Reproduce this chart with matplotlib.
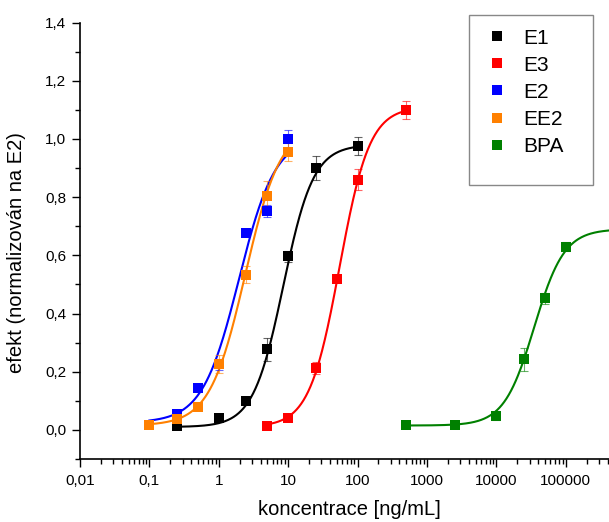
import numpy as np
import matplotlib
matplotlib.use("Agg")
import matplotlib.pyplot as plt
from matplotlib.patches import Rectangle
from matplotlib.ticker import FixedLocator, MultipleLocator, LogLocator, NullFormatter

plt.rcParams['font.family'] = ['Liberation Sans', 'DejaVu Sans']

# Measured points: concentration [ng/mL], normalised effect, error
e1_x = [0.25, 1, 2.5, 5, 10, 25, 100]
e1_y = [0.012, 0.040, 0.099, 0.277, 0.596, 0.900, 0.975]
e1_err = [0.005, 0.008, 0.01, 0.04, 0.02, 0.04, 0.03]

e3_x = [5, 10, 25, 50, 100, 500]
e3_y = [0.014, 0.040, 0.212, 0.517, 0.860, 1.099]
e3_err = [0.005, 0.008, 0.02, 0.01, 0.035, 0.03]

e2_x = [0.1, 0.25, 0.5, 1, 2.5, 5, 10]
e2_y = [0.018, 0.055, 0.144, 0.225, 0.678, 0.753, 1.000]
e2_err = [0.005, 0.005, 0.005, 0.02, 0.01, 0.02, 0.03]

ee2_x = [0.1, 0.25, 0.5, 1, 2.5, 5, 10]
ee2_y = [0.017, 0.037, 0.079, 0.226, 0.534, 0.805, 0.955]
ee2_err = [0.008, 0.01, 0.01, 0.03, 0.03, 0.05, 0.03]

bpa_x = [500, 2500, 10000, 25000, 50000, 100000, 500000]
bpa_y = [0.017, 0.017, 0.048, 0.243, 0.452, 0.630, 0.635]
bpa_err = [0.005, 0.005, 0.015, 0.04, 0.02, 0.015, 0.02]

# Four-parameter logistic fits: bottom, top, EC50, Hill slope, fitted range
e1_fit = (0.010, 0.980, 8.5, 2.0, 0.25, 100)
e3_fit = (0.010, 1.110, 55.0, 2.0, 5, 500)
e2_fit = (0.025, 1.010, 1.95, 1.65, 0.1, 10)
ee2_fit = (0.015, 1.050, 2.4, 1.7, 0.1, 10)
bpa_fit = (0.015, 0.690, 35000.0, 2.0, 500, 1e6)

x_ticks = [0.01, 0.1, 1, 10, 100, 1000, 10000, 100000]
x_tick_labels = ["0,01", "0,1", "1", "10", "100", "1000", "10000", "100000"]
y_ticks = [0.0, 0.2, 0.4, 0.6, 0.8, 1.0, 1.2, 1.4]
y_tick_labels = ["0,0", "0,2", "0,4", "0,6", "0,8", "1,0", "1,2", "1,4"]


def logistic(x, bottom, top, ec50, hill):
    return bottom + (top - bottom) / (1.0 + (ec50 / x) ** hill)


series = [
    ("E1", e1_x, e1_y, e1_err, e1_fit, "#000000"),
    ("E3", e3_x, e3_y, e3_err, e3_fit, "#ff0000"),
    ("E2", e2_x, e2_y, e2_err, e2_fit, "#0000ff"),
    ("EE2", ee2_x, ee2_y, ee2_err, ee2_fit, "#ff8000"),
    ("BPA", bpa_x, bpa_y, bpa_err, bpa_fit, "#008000"),
]

W, H = 609, 522
fig = plt.figure(figsize=(W / 100, H / 100), dpi=100)
# axis runs past the right edge of the figure
ax = fig.add_axes([80 / W, 63 / H, 624.6 / W, 436.5 / H])

handles = []
for name, xs, ys, errs, fit, color in series:
    bottom, top, ec50, hill, x0, x1 = fit
    xf = np.logspace(np.log10(x0), np.log10(x1), 300)
    ax.plot(xf, logistic(xf, bottom, top, ec50, hill), color=color, lw=1.5, zorder=2)
    ax.errorbar(xs, ys, yerr=errs, fmt="none", ecolor=color, elinewidth=0.8,
                capsize=3, capthick=0.8, alpha=0.6, zorder=3)
    h, = ax.plot(xs, ys, linestyle="none", marker="s", markersize=6.5,
                 color=color, markeredgewidth=0, zorder=4, label=name)
    handles.append(h)

ax.set_xscale("log")
ax.set_xlim(0.01, 1e7)
ax.set_ylim(-0.1, 1.4)

ax.xaxis.set_major_locator(FixedLocator(x_ticks))
ax.set_xticklabels(x_tick_labels)
ax.xaxis.set_minor_locator(LogLocator(base=10, subs=np.arange(2, 10), numticks=30))
ax.xaxis.set_minor_formatter(NullFormatter())
ax.yaxis.set_major_locator(FixedLocator(y_ticks))
ax.set_yticklabels(y_tick_labels)
ax.yaxis.set_minor_locator(MultipleLocator(0.1))

for side in ("top", "right"):
    ax.spines[side].set_visible(False)
for side in ("left", "bottom"):
    ax.spines[side].set_linewidth(1.2)

ax.tick_params(axis="both", which="major", direction="out", length=6, width=1.0,
               labelsize=11, colors="#000000")
ax.tick_params(axis="both", which="minor", direction="out", length=3.5, width=1.0)
ax.tick_params(axis="x", pad=5)
ax.tick_params(axis="y", pad=4)

ax.set_xlabel("koncentrace [ng/mL]", fontsize=14.5)
ax.xaxis.set_label_coords((349 - 80) / 624.6, -0.094)
ax.set_ylabel("efekt (normalizován na E2)", fontsize=14.5)
ax.yaxis.set_label_coords((26 - 80) / 624.6, (459 - 252.5) / 436.5)

# legend frame, taller than its entries
fig.patches.append(Rectangle((469 / W, 1 - 185 / H), 124 / W, 170 / H,
                             transform=fig.transFigure, facecolor="white",
                             edgecolor="#888888", linewidth=1.0, zorder=5))
leg = fig.legend(handles=handles, loc="upper left",
                 bbox_to_anchor=(487 / W, 1 - 28.5 / H), bbox_transform=fig.transFigure,
                 fontsize=15, frameon=False, markerscale=1.0,
                 handlelength=1.0, handletextpad=0.73, borderpad=0,
                 labelspacing=0.39, borderaxespad=0)
leg.set_zorder(6)

fig.savefig("out.png", dpi=100)
